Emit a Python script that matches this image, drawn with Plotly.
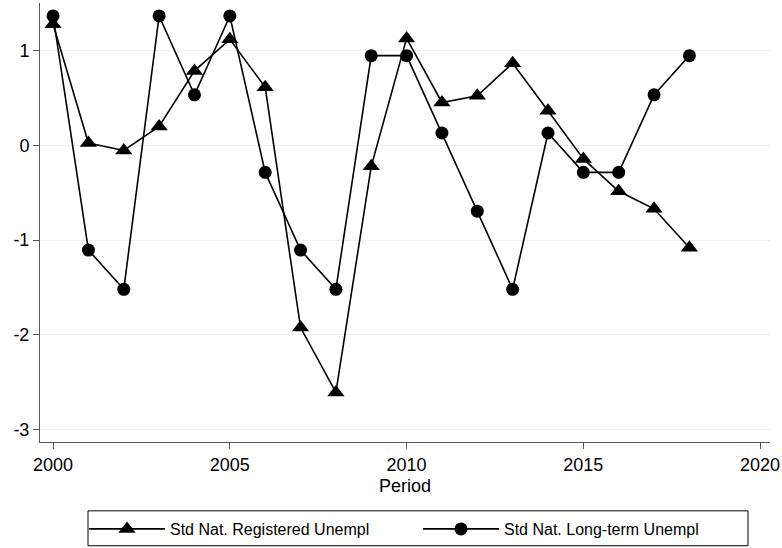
import plotly.graph_objects as go

years = list(range(2000, 2019))
registered = [1.28, 0.025, -0.053, 0.20, 0.787, 1.12, 0.615, -1.924, -2.61, -0.221,
              1.13, 0.453, 0.524, 0.868, 0.366, -0.143, -0.485, -0.67, -1.081]
longterm = [1.367, -1.106, -1.52, 1.367, 0.534, 1.367, -0.285, -1.106, -1.52, 0.948,
            0.948, 0.131, -0.695, -1.52, 0.131, -0.285, -0.285, 0.534, 0.948]
x_ticks = [2000, 2005, 2010, 2015, 2020]
y_ticks = [-3, -2, -1, 0, 1]
name_reg = "Std Nat. Registered Unempl"
name_lt = "Std Nat. Long-term Unempl"

FONT = "Liberation Sans, Arial, Helvetica, sans-serif"

fig = go.Figure()
fig.add_trace(go.Scatter(
    x=years, y=registered, mode="lines+markers", name=name_reg,
    line=dict(color="black", width=1.6),
    marker=dict(symbol="triangle-up", size=15, color="black"),
    legend="legend", showlegend=True,
))
fig.add_trace(go.Scatter(
    x=years, y=longterm, mode="lines+markers", name=name_lt,
    line=dict(color="black", width=1.6),
    marker=dict(symbol="circle", size=13, color="black"),
    legend="legend2", showlegend=True,
))

W, H = 782, 548
L, R, T, B = 40, 12, 3, 105
pw, ph = W - L - R, H - T - B

def px_x(p):
    return (p - L) / pw

def px_y(p):
    return (H - B - p) / ph

fig.update_layout(
    width=W, height=H,
    showlegend=True,
    margin=dict(l=L, r=R, t=T, b=B),
    plot_bgcolor="white", paper_bgcolor="white",
    font=dict(family=FONT, color="black", size=18),
    xaxis=dict(
        range=[1999.63, 2020.28], tickvals=x_ticks, ticktext=[str(v) for v in x_ticks],
        showgrid=False, zeroline=False, showline=True, linecolor="#555555", linewidth=1,
        ticks="outside", ticklen=6, tickcolor="#555555", tickfont=dict(size=18),
        title=dict(text="Period", font=dict(size=18), standoff=5),
    ),
    yaxis=dict(
        range=[-3.133, 1.504], tickvals=y_ticks, ticktext=[str(v) for v in y_ticks],
        showgrid=True, gridcolor="#EAF2F3", gridwidth=1.2, zeroline=False,
        showline=True, linecolor="#555555", linewidth=1,
        ticks="outside", ticklen=6, tickcolor="#555555", tickfont=dict(size=18),
    ),
    legend=dict(x=px_x(84), y=px_y(529), xanchor="left", yanchor="middle",
                orientation="h", itemwidth=76, font=dict(size=16),
                bgcolor="rgba(0,0,0,0)", borderwidth=0),
    legend2=dict(x=px_x(418), y=px_y(529), xanchor="left", yanchor="middle",
                 orientation="h", itemwidth=76, font=dict(size=16),
                 bgcolor="rgba(0,0,0,0)", borderwidth=0),
    shapes=[dict(type="rect", xref="paper", yref="paper",
                 x0=px_x(88), x1=px_x(748), y0=px_y(512), y1=px_y(547),
                 line=dict(color="black", width=1), fillcolor="rgba(0,0,0,0)")],
)

fig.write_html("out.html")
